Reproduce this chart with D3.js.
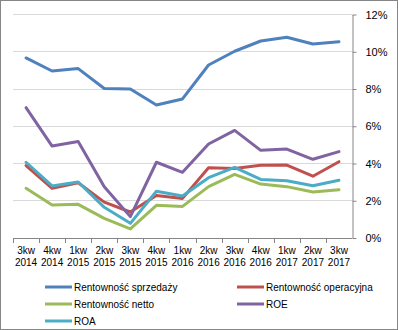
<!DOCTYPE html>
<html>
<head>
<meta charset="utf-8">
<script src="https://cdn.jsdelivr.net/npm/d3@7"></script>
<style>
  body { margin: 0; background: #fff; }
  svg { display: block; font-family: "Liberation Sans", Arial, sans-serif; }
</style>
</head>
<body>
<svg id="chart" width="398" height="330"></svg>
<script>
// kwartały
const quarters = ['3kw 2014', '4kw 2014', '1kw 2015', '2kw 2015', '3kw 2015', '4kw 2015', '1kw 2016',
  '2kw 2016', '3kw 2016', '4kw 2016', '1kw 2017', '2kw 2017', '3kw 2017']

// wartości w %
const rentSprzedazy = [9.64, 8.94, 9.07, 8.0, 7.97, 7.11, 7.44, 9.26, 10.0, 10.55, 10.75, 10.39, 10.51]
const rentOperacyjna = [3.86, 2.64, 2.94, 1.9, 1.37, 2.26, 2.1, 3.75, 3.7, 3.88, 3.89, 3.29, 4.07]
const rentNetto = [2.64, 1.74, 1.78, 1.03, 0.46, 1.73, 1.67, 2.73, 3.39, 2.87, 2.73, 2.44, 2.57]
const roe = [6.97, 4.91, 5.15, 2.73, 1.12, 4.04, 3.5, 5.02, 5.75, 4.68, 4.75, 4.2, 4.61]
const roa = [4.04, 2.77, 2.98, 1.62, 0.76, 2.48, 2.23, 3.21, 3.77, 3.12, 3.05, 2.78, 3.07]

const yTicks = [0, 2, 4, 6, 8, 10, 12]

const series = [
  { name: 'Rentowność sprzedaży', values: rentSprzedazy, color: '#4F81BD' },
  { name: 'Rentowność operacyjna', values: rentOperacyjna, color: '#C0504D' },
  { name: 'Rentowność netto', values: rentNetto, color: '#9BBB59' },
  { name: 'ROE', values: roe, color: '#8064A2' },
  { name: 'ROA', values: roa, color: '#4BACC6' }
]

const svg = d3.select('#chart')
const plotLeft = 13, plotRight = 352, plotTop = 14, plotBottom = 237.5

// ramka
svg.append('rect').attr('x', 0.5).attr('y', 0.5).attr('width', 397).attr('height', 329)
  .attr('fill', '#fff').attr('stroke', '#868686')

const x = d3.scaleBand().domain(quarters).range([plotLeft, plotRight])
const y = d3.scaleLinear().domain([0, 12]).range([plotBottom, plotTop])

// siatka
svg.append('g').selectAll('line').data(yTicks.filter(d => d > 0)).enter().append('line')
  .attr('x1', plotLeft).attr('x2', plotRight)
  .attr('y1', d => Math.round(y(d)) + 0.5).attr('y2', d => Math.round(y(d)) + 0.5)
  .attr('stroke', '#d9d9d9')

// oś Y po prawej
const yAxis = svg.append('g').attr('transform', 'translate(' + (plotRight + 0.5) + ',0.5)')
  .call(d3.axisRight(y).tickValues(yTicks).tickFormat(d => d + '%').tickSize(4).tickSizeOuter(0).tickPadding(9))
yAxis.select('.domain').attr('stroke', '#868686')
yAxis.selectAll('.tick line').attr('stroke', '#868686')
yAxis.selectAll('text').attr('font-size', 11).attr('fill', '#000')
  .attr('font-family', '"Liberation Sans", Arial, sans-serif')

// oś X
const xg = svg.append('g')
xg.append('line').attr('x1', plotLeft).attr('x2', plotRight)
  .attr('y1', Math.round(plotBottom) + 0.5).attr('y2', Math.round(plotBottom) + 0.5).attr('stroke', '#868686')
xg.selectAll('.xt').data(quarters).enter().append('line').attr('class', 'xt')
  .attr('x1', d => Math.round(x(d)) + 0.5).attr('x2', d => Math.round(x(d)) + 0.5)
  .attr('y1', Math.round(plotBottom)).attr('y2', Math.round(plotBottom) + 5).attr('stroke', '#868686')
const xl = xg.selectAll('.xl').data(quarters).enter().append('text').attr('class', 'xl')
  .attr('text-anchor', 'middle').attr('font-size', 10).attr('fill', '#000')
  .attr('transform', d => 'translate(' + (x(d) + x.bandwidth() / 2) + ',0)')
xl.append('tspan').attr('x', 0).attr('y', 254).text(d => d.split(' ')[0])
xl.append('tspan').attr('x', 0).attr('y', 266).text(d => d.split(' ')[1])

// linie
const line = d3.line()
  .x((d, i) => x(quarters[i]) + x.bandwidth() / 2)
  .y(d => y(d))

svg.append('g').selectAll('path').data(series).enter().append('path')
  .attr('d', d => line(d.values))
  .attr('fill', 'none')
  .attr('stroke', d => d.color)
  .attr('stroke-width', 3)
  .attr('stroke-linejoin', 'round')
  .attr('stroke-linecap', 'round')

// legenda
const legendPos = [[45, 287], [237, 287], [45, 304], [237, 304], [45, 321]]
const lg = svg.append('g').selectAll('g').data(series).enter().append('g')
  .attr('transform', (d, i) => 'translate(' + legendPos[i][0] + ',' + legendPos[i][1] + ')')
lg.append('line').attr('x1', 0).attr('x2', 27).attr('y1', 0).attr('y2', 0)
  .attr('stroke', d => d.color).attr('stroke-width', 3)
lg.append('text').attr('x', 29).attr('y', 3.5).attr('font-size', 10).attr('fill', '#000')
  .text(d => d.name)
</script>
</body>
</html>
